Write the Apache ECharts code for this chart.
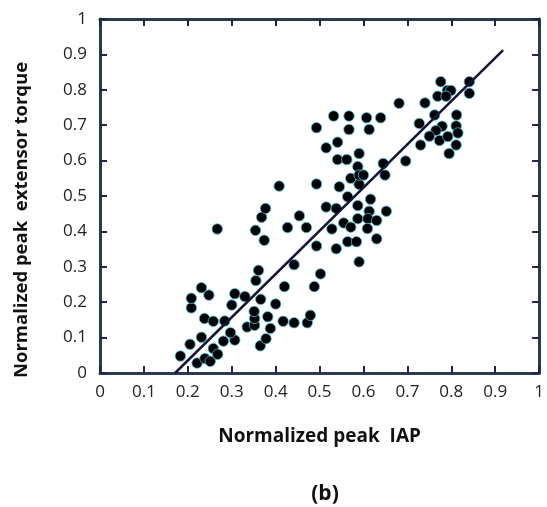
<!DOCTYPE html>
<html>
<head>
<meta charset="utf-8">
<script src="https://cdn.jsdelivr.net/npm/echarts@6/dist/echarts.min.js"></script>
<style>html,body{margin:0;padding:0;background:#fff;}#c{width:547px;height:507px;}</style>
</head>
<body>
<div id="c"></div>
<script>
// Normalized peak IAP (x) and normalized peak extensor torque (y)
const iapValues = [
  0.183,0.205,0.221,0.239,0.251,0.258,0.268,0.231,0.281,0.307,
  0.297,0.238,0.258,0.284,0.208,0.208,0.231,0.248,0.300,0.307,
  0.330,0.335,0.352,0.352,0.351,0.365,0.366,0.378,0.382,0.388,
  0.400,0.417,0.420,0.442,0.472,0.479,0.488,0.442,0.355,0.361,
  0.354,0.374,0.368,0.377,0.267,0.427,0.454,0.470,0.493,0.502,
  0.408,0.493,0.545,0.590,0.564,0.616,0.515,0.538,0.587,0.613,
  0.652,0.587,0.610,0.630,0.555,0.571,0.528,0.609,0.564,0.584,
  0.630,0.538,0.590,0.681,0.532,0.567,0.607,0.639,0.493,0.567,
  0.613,0.541,0.515,0.590,0.541,0.562,0.645,0.696,0.587,0.571,
  0.590,0.600,0.649,0.776,0.841,0.791,0.799,0.769,0.788,0.841,
  0.740,0.762,0.812,0.727,0.811,0.779,0.765,0.815,0.750,0.773,
  0.792,0.811,0.730,0.795
];
const torqueValues = [
  0.048,0.081,0.028,0.041,0.033,0.069,0.053,0.101,0.090,0.093,
  0.114,0.154,0.146,0.147,0.184,0.211,0.241,0.220,0.192,0.224,
  0.216,0.130,0.135,0.154,0.174,0.077,0.208,0.097,0.159,0.126,
  0.195,0.146,0.244,0.142,0.142,0.163,0.244,0.306,0.261,0.290,
  0.403,0.375,0.440,0.465,0.407,0.411,0.444,0.411,0.359,0.280,
  0.528,0.534,0.526,0.533,0.498,0.491,0.469,0.465,0.473,0.457,
  0.457,0.436,0.436,0.431,0.424,0.412,0.407,0.408,0.371,0.371,
  0.379,0.351,0.314,0.762,0.726,0.726,0.721,0.721,0.693,0.688,
  0.688,0.652,0.636,0.620,0.603,0.603,0.592,0.599,0.583,0.550,
  0.559,0.559,0.559,0.823,0.823,0.798,0.798,0.782,0.782,0.790,
  0.763,0.729,0.729,0.705,0.698,0.697,0.685,0.678,0.669,0.657,
  0.668,0.644,0.644,0.620
];
// Regression line end points
const fitX = [0.171, 0.918];
const fitY = [0.0, 0.912];
const axisTicks = [0,0.1,0.2,0.3,0.4,0.5,0.6,0.7,0.8,0.9,1];

const points = iapValues.map((x, i) => [x, torqueValues[i]]);
const fitLine = fitX.map((x, i) => [x, fitY[i]]);

const FONT = 'Open Sans';
const axisLineStyle = {color: '#2b3a4e', width: 3};
const tickStyle = {color: '#1c2846', width: 2};
const fmt = v => String(Math.round(v * 10) / 10);

const chart = echarts.init(document.getElementById('c'), null, {renderer: 'canvas'});
chart.setOption({
  animation: false,
  backgroundColor: '#ffffff',
  grid: {left: 100, right: 2, top: 19, bottom: 134},
  xAxis: [{
    type: 'value', min: 0, max: 1, interval: 0.1, position: 'bottom',
    axisLine: {show: true, onZero: false, lineStyle: axisLineStyle},
    axisTick: {show: true, inside: true, length: 7, lineStyle: tickStyle},
    axisLabel: {show: true, margin: 11, color: '#222', fontSize: 17, fontFamily: FONT, formatter: fmt},
    splitLine: {show: false},
    name: 'Normalized peak  IAP', nameLocation: 'middle', nameGap: 54,
    nameTextStyle: {color: '#111', fontSize: 19, fontWeight: 'bold', fontFamily: FONT}
  }, {
    type: 'value', min: 0, max: 1, interval: 0.1, position: 'top',
    axisLine: {show: true, onZero: false, lineStyle: axisLineStyle},
    axisTick: {show: true, inside: true, length: 7, lineStyle: tickStyle},
    axisLabel: {show: false}, splitLine: {show: false}
  }],
  yAxis: [{
    type: 'value', min: 0, max: 1, interval: 0.1, position: 'left',
    axisLine: {show: true, onZero: false, lineStyle: axisLineStyle},
    axisTick: {show: true, inside: true, length: 7, lineStyle: tickStyle},
    axisLabel: {show: true, margin: 13, color: '#222', fontSize: 17, fontFamily: FONT, formatter: fmt},
    splitLine: {show: false}
  }, {
    type: 'value', min: 0, max: 1, interval: 0.1, position: 'right',
    axisLine: {show: true, onZero: false, lineStyle: axisLineStyle},
    axisTick: {show: true, inside: true, length: 7, lineStyle: tickStyle},
    axisLabel: {show: false}, splitLine: {show: false}
  }],
  graphic: [{
    type: 'text', x: 22, y: 220, rotation: Math.PI / 2,
    style: {text: 'Normalized peak  extensor torque', fill: '#111', font: 'bold 18.5px "Open Sans"', align: 'center', verticalAlign: 'middle'}
  }, {
    type: 'text', x: 325, y: 494,
    style: {text: '(b)', fill: '#111', font: 'bold 21px "Open Sans"', align: 'center', verticalAlign: 'middle'}
  }],
  series: [{
    type: 'scatter', xAxisIndex: 0, yAxisIndex: 0,
    data: points, symbolSize: 10.5,
    itemStyle: {color: '#000', borderColor: '#49c2e6', borderWidth: 0.8, opacity: 1},
    z: 3
  }, {
    type: 'line', xAxisIndex: 0, yAxisIndex: 0,
    data: fitLine, symbol: 'none',
    lineStyle: {color: '#15143a', width: 2.5},
    z: 4
  }]
});
</script>
</body>
</html>
